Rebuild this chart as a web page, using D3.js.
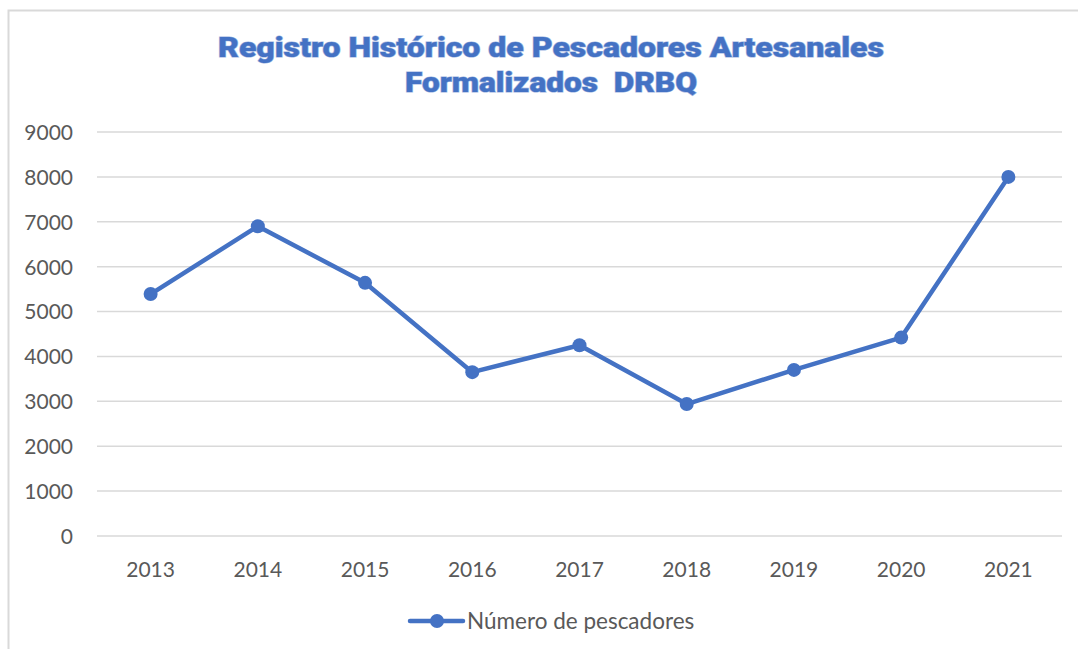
<!DOCTYPE html>
<html><head><meta charset="utf-8">
<script src="https://cdn.jsdelivr.net/npm/d3@7"></script>
<style>
body{margin:0;background:#fff;}
svg{display:block;}
</style></head>
<body>
<script>
const years = ["2013","2014","2015","2016","2017","2018","2019","2020","2021"];
const pescadores = [5390, 6900, 5640, 3650, 4250, 2940, 3700, 4420, 8000];
const yTicks = [0,1000,2000,3000,4000,5000,6000,7000,8000,9000];
const titleLines = ["Registro Histórico de Pescadores Artesanales", "Formalizados  DRBQ"];
const seriesName = "Número de pescadores";

(function(){
const W = 1078, H = 649;
const svg = d3.select("body").append("svg").attr("width", W).attr("height", H);
svg.append("rect").attr("width", W).attr("height", H).attr("fill", "#fff");
svg.append("path").attr("d", `M8.5,${H} L8.5,10.5 L${W},10.5`).attr("fill","none").attr("stroke","#d9d9d9").attr("stroke-width",2);

const pLeft = 97, pRight = 1062, pTop = 132, pBottom = 536;
const x = d3.scaleBand().domain(years).range([pLeft, pRight]);
const y = d3.scaleLinear().domain([0, 9000]).range([pBottom, pTop]);

const font = "Lato, 'Open Sans', sans-serif";
const grey = "#595959";

svg.append("g").selectAll("line").data(yTicks).join("line")
  .attr("x1", pLeft).attr("x2", pRight)
  .attr("y1", d => y(d)).attr("y2", d => y(d))
  .attr("stroke", "#d9d9d9").attr("stroke-width", 1.5);

const yAxis = d3.axisLeft(y).tickValues(yTicks).tickSize(0).tickPadding(0).tickFormat(d3.format("d"));
const gy = svg.append("g").attr("transform", "translate(73,0)").call(yAxis);
gy.select(".domain").remove();
gy.selectAll("text").attr("font-family", font).attr("font-size", 21).attr("fill", grey).attr("dy", "0.35em");

const xAxis = d3.axisBottom(x).tickSize(0).tickPadding(0);
const gx = svg.append("g").attr("transform", `translate(0,${pBottom})`).call(xAxis);
gx.select(".domain").remove();
gx.selectAll("text").attr("font-family", font).attr("font-size", 21).attr("fill", grey).attr("dy", null).attr("y", 41);

const cx = d => x(d) + x.bandwidth()/2;
const blue = "#4472C4";
const line = d3.line().x((d,i) => cx(years[i])).y(d => y(d));
svg.append("path").datum(pescadores).attr("d", line)
  .attr("fill","none").attr("stroke", blue).attr("stroke-width", 4.5).attr("stroke-linejoin","round");
svg.append("g").selectAll("circle").data(pescadores).join("circle")
  .attr("cx", (d,i) => cx(years[i])).attr("cy", d => y(d)).attr("r", 7).attr("fill", blue);

const titleW = [666, 292];
svg.append("g").selectAll("text").data(titleLines).join("text")
  .attr("x", 551).attr("y", (d,i) => 57 + i*35)
  .attr("text-anchor", "middle")
  .style("white-space", "pre")
  .attr("font-family", "Roboto, 'DejaVu Sans', sans-serif").attr("font-weight", 900)
  .attr("font-size", 27)
  .attr("textLength", (d,i) => titleW[i]).attr("lengthAdjust", "spacingAndGlyphs")
  .attr("fill", blue).attr("stroke", "#9db4e0").attr("stroke-width", 1.2).attr("paint-order","stroke")
  .text(d => d);

const ly = 621;
svg.append("line").attr("x1", 410).attr("x2", 463).attr("y1", ly).attr("y2", ly)
  .attr("stroke", blue).attr("stroke-width", 4.5).attr("stroke-linecap","round");
svg.append("circle").attr("cx", 437).attr("cy", ly).attr("r", 7).attr("fill", blue);
svg.append("text").attr("x", 467).attr("y", ly).attr("dy","0.35em")
  .attr("font-family", font).attr("font-size", 22.5).attr("fill", grey).text(seriesName);
})();
</script>
</body></html>
